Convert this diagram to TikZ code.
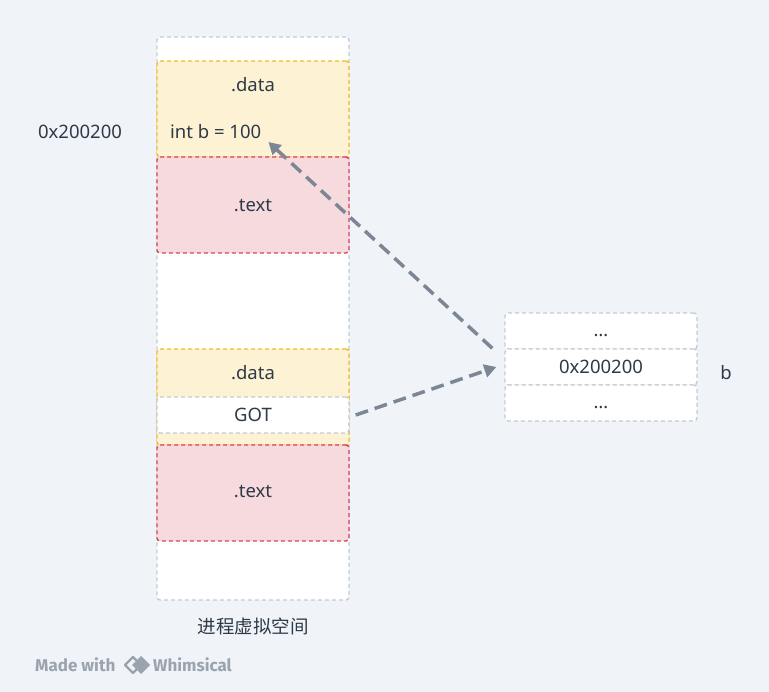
\documentclass[tikz,border=0pt]{standalone}
\usepackage{fontspec}
\setmainfont{Noto Sans}
\newfontfamily\cjk{Noto Sans CJK SC}
\newfontfamily\wmfont{Fira Sans}
\usepackage{xcolor}
\usetikzlibrary{positioning,arrows.meta}
\definecolor{bgcol}{HTML}{F0F3F7}
\definecolor{framecol}{HTML}{C3CCD6}
\definecolor{datafill}{HTML}{FDF2D4}
\definecolor{datadraw}{HTML}{F4BC22}
\definecolor{textfill}{HTML}{F7DADE}
\definecolor{textdraw}{HTML}{D8435B}
\definecolor{linkcol}{HTML}{7B8794}
\definecolor{txtcol}{HTML}{2E3A47}
\definecolor{wmcol}{HTML}{9AA4AE}

\begin{document}
\begin{tikzpicture}[x=1pt,y=-1pt,>={Triangle[length=12pt,width=13pt]},
  font=\fontsize{18.5}{22}\selectfont, text=txtcol,
  seg/.style={rectangle,draw,dash pattern=on 4pt off 3pt,line width=1.4pt,
    rounded corners=3pt,minimum width=192pt,inner sep=0pt},
  frame/.style={seg,draw=framecol,fill=white},
  datasec/.style={seg,draw=datadraw,fill=datafill,minimum height=96pt},
  textsec/.style={seg,draw=textdraw,fill=textfill,minimum height=96pt},
  cell/.style={frame,minimum height=36pt},
  link/.style={->,draw=linkcol,line width=3.5pt,dash pattern=on 13pt off 7pt},
  wm/.style={anchor=west,inner sep=0pt,text=wmcol,font=\wmfont\bfseries\fontsize{17}{20}\selectfont}]

    % Background
    \fill[bgcol] (0,0) rectangle (769,692);
    \useasboundingbox (0,0) rectangle (769,692);

    % Process address space
    \node [frame,minimum height=563pt] at (253,318.5) (space) {};
    \node [datasec] at (253,109) (data1) {};
    \node [textsec] at (253,205) (text1) {};
    \node [datasec] at (253,397) (data2) {};
    \node [cell] at (253,415) (got) {GOT};
    \node [textsec] at (253,493) (text2) {};

    % Section labels
    \node at (253,85) (data1lbl) {.data};
    \node [anchor=west,inner sep=0pt] at (170,132) (intb) {int b = 100};
    \node at (253,206) (text1lbl) {.text};
    \node at (253,373) (data2lbl) {.data};
    \node at (253,492) (text2lbl) {.text};
    \node at (253,626) (spacelbl) {\cjk 进程虚拟空间};
    \node at (80,132) (addrlbl) {0x200200};

    % GOT entries
    \node [cell] at (601,331) (top) {\raisebox{-12pt}{\dots}};
    \node [cell] at (601,367) (addr) {0x200200};
    \node [cell] at (601,403) (bottom) {\raisebox{-12pt}{\dots}};
    \node at (726,373) (blbl) {b};

    % Links
    \coordinate (target) at ([xshift=7pt,yshift=-10pt]intb.east);
    \path
    ([xshift=6pt]got.east) edge[link] ([xshift=-8pt]addr.west)
    ([xshift=-12pt]addr.north west) edge[link] (target)
    ;

    % Watermark
    \node [wm] at (35,665) (made) {Made with};
    \draw[wmcol,line width=2.2pt,line join=round] (133,657)--(141,665)--(133,673)--(125,665)--cycle;
    \fill[wmcol] (141,656)--(150,665)--(141,674)--(132,665)--cycle;
    \node [wm] at (153,665) (whim) {Whimsical};

\end{tikzpicture}
\end{document}
